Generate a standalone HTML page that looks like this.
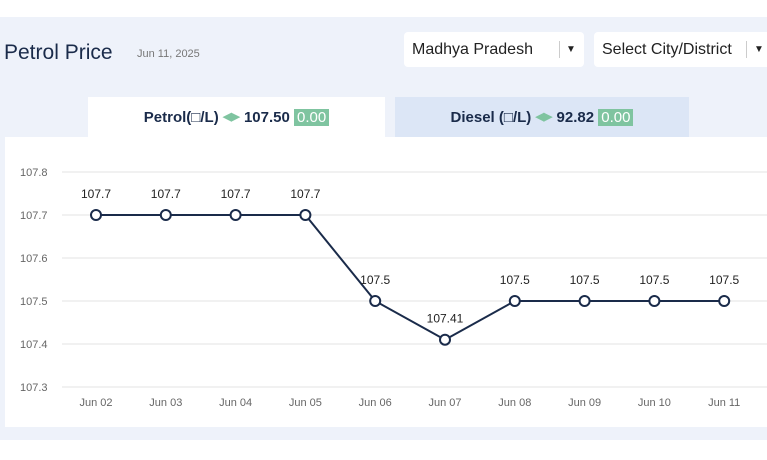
<!DOCTYPE html>
<html><head><meta charset="utf-8"><style>
body{margin:0;width:767px;height:460px;background:#fff;font-family:"Liberation Sans",sans-serif;position:relative;overflow:hidden}
.panel{position:absolute;left:0;top:17px;width:767px;height:423px;background:#eef2fa}
.abs{position:absolute}
.dd{position:absolute;background:#fff;border-radius:4px;height:35px;top:32px;font-size:16px;color:#222;line-height:35px}
.badge{background:#7fc4a0;color:#fff;padding:0 3px;font-weight:normal}
.arr{color:#7fc4a0;font-size:11px;vertical-align:2px}
</style></head><body>
<div class="panel"></div>
<div class="abs" style="left:4px;top:41px;font-size:21px;color:#1a2b4a">Petrol Price</div>
<div class="abs" style="left:137px;top:48px;font-size:11px;color:#777">Jun 11, 2025</div>
<div class="dd" style="left:404px;width:180px"><span style="margin-left:8px">Madhya Pradesh</span><span style="position:absolute;left:155px;top:9px;height:17px;border-left:1px solid #ccc"></span><span style="position:absolute;left:162px;font-size:10px">▼</span></div>
<div class="dd" style="left:594px;width:180px"><span style="margin-left:8px">Select City/District</span><span style="position:absolute;left:152px;top:9px;height:17px;border-left:1px solid #ccc"></span><span style="position:absolute;left:160px;font-size:10px">▼</span></div>
<div class="abs" style="left:88px;top:97px;width:297px;height:41px;background:#fff;text-align:center;line-height:40px;font-size:15px;font-weight:bold;color:#1a2b4a">Petrol(□/L) <span class="arr">◀▶</span> 107.50 <span class="badge">0.00</span></div>
<div class="abs" style="left:395px;top:97px;width:294px;height:40px;background:#dce6f6;text-align:center;line-height:40px;font-size:15px;font-weight:bold;color:#1a2b4a">Diesel (□/L) <span class="arr">◀▶</span> 92.82 <span class="badge">0.00</span></div>
<div class="abs" style="left:5px;top:137px;width:762px;height:290px;background:#fff"></div>
<svg class="abs" style="left:0;top:0" width="767" height="460" id="chart"></svg>
<script>
const categories=["Jun 02","Jun 03","Jun 04","Jun 05","Jun 06","Jun 07","Jun 08","Jun 09","Jun 10","Jun 11"];
const values=[107.7,107.7,107.7,107.7,107.5,107.41,107.5,107.5,107.5,107.5];
const valueLabels=["107.7","107.7","107.7","107.7","107.5","107.41","107.5","107.5","107.5","107.5"];
const yTicks=[107.3,107.4,107.5,107.6,107.7,107.8];
const yTickLabels=["107.3","107.4","107.5","107.6","107.7","107.8"];
const svg=document.getElementById('chart');const NS='http://www.w3.org/2000/svg';
const y=v=>387-(v-107.3)*430;
const x=i=>96+i*69.8;
function mk(t,a){const e=document.createElementNS(NS,t);for(const k in a)e.setAttribute(k,a[k]);svg.appendChild(e);return e;}
yTicks.forEach((t,i)=>{
 const l=mk('line',{x1:62,x2:767,y1:y(t),y2:y(t),stroke:'#e3e3e3'});
 
 
 const tx=mk('text',{x:20,y:y(t)+4,'font-size':11,fill:'#666','font-family':'Liberation Sans'});tx.textContent=yTickLabels[i];
 
 
});
categories.forEach((c,i)=>{
 const tx=mk('text',{x:x(i),y:406,'font-size':11,fill:'#666','text-anchor':'middle','font-family':'Liberation Sans'});tx.textContent=c;
 
 
});
const p=mk('polyline',{points:values.map((v,i)=>x(i)+','+y(v)).join(' '),fill:'none',stroke:'#1a2b4a','stroke-width':2});


values.forEach((v,i)=>{
 const c=mk('circle',{cx:x(i),cy:y(v),r:5,fill:'#fff',stroke:'#1a2b4a','stroke-width':2});
 
 
 const t=mk('text',{x:x(i),y:y(v)-17,'font-size':12,fill:'#222','text-anchor':'middle','font-family':'Liberation Sans'});t.textContent=valueLabels[i];
 
 
});
</script>
</body></html>
